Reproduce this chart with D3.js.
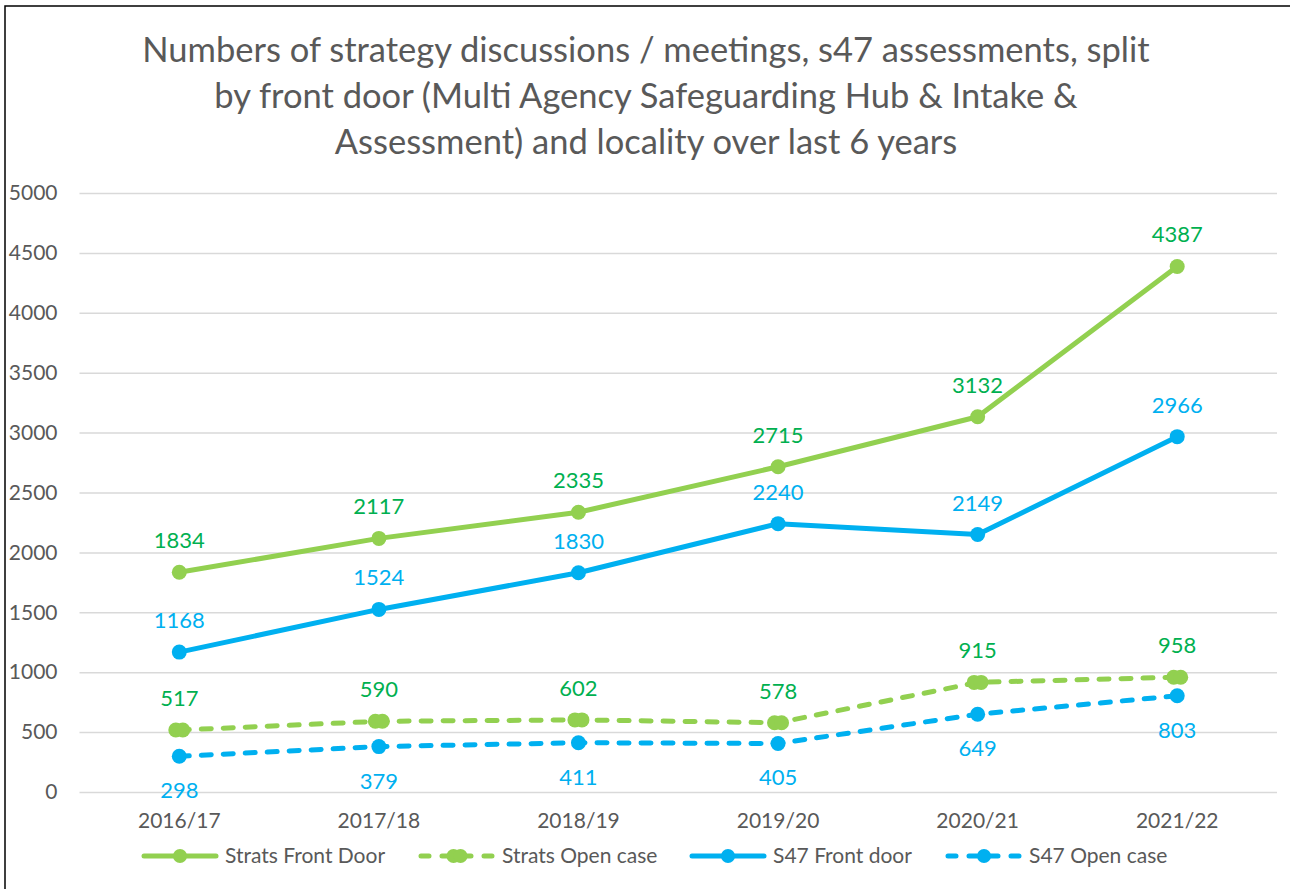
<!DOCTYPE html>
<html><head><meta charset="utf-8">
<script src="https://cdn.jsdelivr.net/npm/d3@7"></script>
<style>body{margin:0;background:#fff}svg{display:block}</style>
</head><body>
<svg id="c" width="1290" height="889"></svg>
<script>
const categories = ["2016/17","2017/18","2018/19","2019/20","2020/21","2021/22"];
const stratsFrontDoor = [1834,2117,2335,2715,3132,4387];
const stratsOpenCase = [517,590,602,578,915,958];
const s47FrontDoor = [1168,1524,1830,2240,2149,2966];
const s47OpenCase = [298,379,411,405,649,803];
const yTicks = [0,500,1000,1500,2000,2500,3000,3500,4000,4500,5000];
const titleLines = ["Numbers of strategy discussions / meetings, s47 assessments, split","by front door (Multi Agency Safeguarding Hub & Intake &","Assessment) and locality over last 6 years"];

const series = [
  {name:"Strats Front Door", values:stratsFrontDoor, color:"#92D050", label:"#00B050", dash:null, pos:"above", dbl:false},
  {name:"Strats Open case", values:stratsOpenCase, color:"#92D050", label:"#00B050", dash:"10,12", pos:"above", dbl:true},
  {name:"S47 Front door", values:s47FrontDoor, color:"#00B0F0", label:"#00B0F0", dash:null, pos:"above", dbl:false},
  {name:"S47 Open case", values:s47OpenCase, color:"#00B0F0", label:"#00B0F0", dash:"10,12", pos:"below", dbl:false}
];

const font = "Lato, 'Open Sans', sans-serif";
const svg = d3.select("#c");
svg.append("rect").attr("x",5).attr("y",6).attr("width",1300).attr("height",900)
  .attr("fill","#fff").attr("stroke","#000").attr("stroke-width",1.5);

const x = d3.scaleBand().domain(categories).range([79.5,1277]);
const y = d3.scaleLinear().domain([0,5000]).range([792,193]);

// title
svg.append("g").selectAll("text").data(titleLines).join("text")
  .attr("x",646).attr("y",(d,i)=>62+i*46).attr("text-anchor","middle")
  .attr("font-family",font).attr("font-size",34.5).attr("fill","#595959").text(d=>d);

// grid
const yAxis = d3.axisLeft(y).tickValues(yTicks).tickSize(-(1277-79.5)).tickPadding(22).tickFormat(d3.format("d"));
const gy = svg.append("g").attr("transform","translate(79.5,0)").call(yAxis);
gy.select(".domain").remove();
gy.selectAll(".tick line").attr("stroke","#d9d9d9").attr("stroke-width",1.5);
gy.selectAll(".tick text").attr("font-family",font).attr("font-size",21).attr("fill","#595959");

const xAxis = d3.axisBottom(x).tickSize(0).tickPadding(21);
const gx = svg.append("g").attr("transform","translate(0,792)").call(xAxis);
gx.select(".domain").remove();
gx.selectAll(".tick text").attr("font-family",font).attr("font-size",21).attr("fill","#595959");

const cx = c => x(c)+x.bandwidth()/2;
const line = d3.line().x((d,i)=>cx(categories[i])).y(d=>y(d));

function marker(g, px, py, s, r){
  if(s.dbl){
    g.append("circle").attr("cx",px-3.5).attr("cy",py).attr("r",r).attr("fill",s.color);
    g.append("circle").attr("cx",px+3.5).attr("cy",py).attr("r",r).attr("fill",s.color);
  } else {
    g.append("circle").attr("cx",px).attr("cy",py).attr("r",r).attr("fill",s.color);
  }
}

series.forEach(s=>{
  const g = svg.append("g");
  g.append("path").attr("d",line(s.values)).attr("fill","none").attr("stroke",s.color)
    .attr("stroke-width",5).attr("stroke-linecap","round").attr("stroke-linejoin","round")
    .attr("stroke-dasharray",s.dash);
  s.values.forEach((v,i)=>marker(g,cx(categories[i]),y(v),s,7.5));
  g.selectAll("text").data(s.values).join("text")
    .attr("x",(d,i)=>cx(categories[i]))
    .attr("y",d=>y(d)+(s.pos==="above"?-24:42))
    .attr("text-anchor","middle").attr("font-family",font).attr("font-size",22)
    .attr("fill",s.label).text(d=>d);
});

// legend
const legendX = [144,421,692,948];
const lg = svg.append("g");
series.forEach((s,i)=>{
  const x0 = legendX[i], ly = 856;
  lg.append("line").attr("x1",x0).attr("x2",x0+72).attr("y1",ly).attr("y2",ly)
    .attr("stroke",s.color).attr("stroke-width",5).attr("stroke-linecap","round")
    .attr("stroke-dasharray",s.dash?"8,13":null);
  marker(lg,x0+36,ly,s,7);
  lg.append("text").attr("x",x0+81).attr("y",ly+7).attr("font-family",font).attr("font-size",21)
    .attr("fill","#595959").text(s.name);
});
</script>
</body></html>
